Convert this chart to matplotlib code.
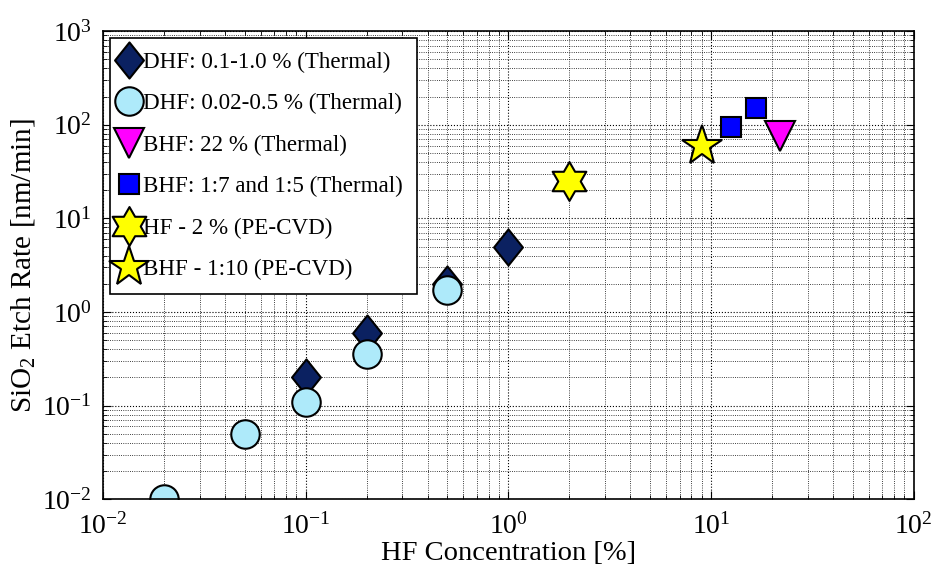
import matplotlib
matplotlib.use('Agg')
import matplotlib.pyplot as plt
import numpy as np
from matplotlib.path import Path
from matplotlib.ticker import LogLocator, NullFormatter, LogFormatterMathtext

plt.rcParams['font.family'] = 'Liberation Serif'
plt.rcParams['mathtext.fontset'] = 'custom'
plt.rcParams['mathtext.rm'] = 'Liberation Serif'
plt.rcParams['mathtext.it'] = 'Liberation Serif:italic'
plt.rcParams['mathtext.bf'] = 'Liberation Serif:bold'

# DHF 0.1-1.0 % (thermal oxide)
dhf1_x = [0.1, 0.2, 0.5, 1.0]
dhf1_y = [0.2, 0.6, 2.0, 5.0]
# DHF 0.02-0.5 % (thermal oxide)
dhf2_x = [0.02, 0.05, 0.1, 0.2, 0.5]
dhf2_y = [0.01, 0.05, 0.11, 0.36, 1.7]
# BHF 22 %
bhf22_x = [22]
bhf22_y = [75]
# BHF 1:7 and 1:5
bhf75_x = [12.5, 16.7]
bhf75_y = [95, 150]
# PE-CVD oxide
hf2_x = [2.0]
hf2_y = [25]
bhf10_x = [9.0]
bhf10_y = [60]

labels = ['DHF: 0.1-1.0 % (Thermal)',
          'DHF: 0.02-0.5 % (Thermal)',
          'BHF: 22 % (Thermal)',
          'BHF: 1:7 and 1:5 (Thermal)',
          'HF - 2 % (PE-CVD)',
          'BHF - 1:10 (PE-CVD)']

# custom markers: tall diamond and six-pointed star
diamond = Path([(0, 1), (0.8, 0), (0, -1), (-0.8, 0), (0, 1)],
               [Path.MOVETO, Path.LINETO, Path.LINETO, Path.LINETO, Path.CLOSEPOLY])
ang = np.deg2rad(90 + 30 * np.arange(12))
rad = np.where(np.arange(12) % 2 == 0, 1.0, 1 / np.sqrt(3))
hv = list(zip(rad * np.cos(ang), rad * np.sin(ang))) + [(0, 1)]
hexagram = Path(hv, [Path.MOVETO] + [Path.LINETO] * 11 + [Path.CLOSEPOLY])

fig = plt.figure(figsize=(9.36, 5.66), dpi=100)
ax = fig.add_axes([0.110, 0.118, 0.866, 0.827])

kw = dict(ls='none', mec='black', mew=1.5)
ax.plot(dhf1_x, dhf1_y, marker=diamond, ms=26, mfc='#0b2161', label=labels[0], **kw)
ax.plot(dhf2_x, dhf2_y, marker='o', ms=20.5, mfc='#aeeafa', label=labels[1], **kw)
ax.plot(bhf22_x, bhf22_y, marker='v', ms=21, mfc='#ff00ff', label=labels[2], **kw)
ax.plot(bhf75_x, bhf75_y, marker='s', ms=15, mfc='#0000ff', label=labels[3], **kw)
ax.plot(hf2_x, hf2_y, marker=hexagram, ms=28, mfc='#ffff00', label=labels[4], **kw)
ax.plot(bhf10_x, bhf10_y, marker='*', ms=30, mfc='#ffff00', label=labels[5], **kw)

ax.set_xscale('log')
ax.set_yscale('log')
ax.set_xlim(1e-2, 1e2)
ax.set_ylim(1e-2, 1e3)
for a in (ax.xaxis, ax.yaxis):
    a.set_major_locator(LogLocator(base=10, numticks=10))
    a.set_minor_locator(LogLocator(base=10, subs=np.arange(2, 10), numticks=20))
    a.set_minor_formatter(NullFormatter())
    a.set_major_formatter(LogFormatterMathtext())

ax.grid(True, which='major', ls=':', lw=0.8, color='black')
ax.grid(True, which='minor', ls=':', lw=0.6, color='black')
ax.tick_params(which='both', direction='in', top=True, right=True, labelsize=20)
ax.tick_params(axis='x', pad=10)
ax.tick_params(axis='y', pad=8)
ax.tick_params(which='major', length=6, width=0.8)
ax.tick_params(which='minor', length=3, width=0.6)
for s in ax.spines.values():
    s.set_linewidth(1.2)

ax.set_xlabel('HF Concentration [%]', fontsize=20.5, labelpad=1)
ax.set_ylabel('SiO$_2$ Etch Rate [nm/min]', fontsize=21, labelpad=4)

leg = ax.legend(loc='upper left', fontsize=16.6, frameon=True, fancybox=False,
                edgecolor='black', framealpha=1, borderaxespad=0.3,
                handlelength=0.5, handletextpad=0.35, borderpad=0.6,
                labelspacing=0.88, numpoints=1)
leg.get_frame().set_linewidth(1.2)

fig.savefig('out.png', dpi=100)
